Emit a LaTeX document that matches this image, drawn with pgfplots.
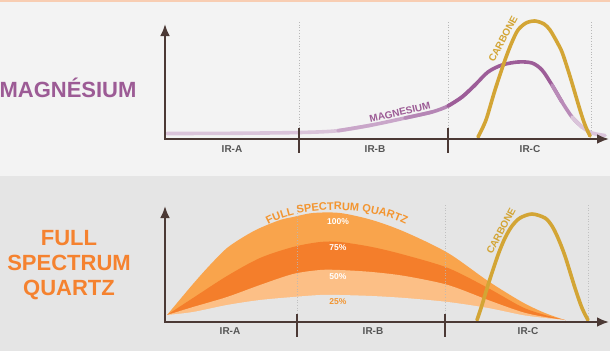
\documentclass[border=0pt]{standalone}
\usepackage{pgfplots}
\pgfplotsset{compat=1.18}
\usepackage{fontspec}
\setmainfont{Liberation Sans}
\usetikzlibrary{decorations.text,arrows.meta}
\definecolor{bgtop}{HTML}{F3F3F3}
\definecolor{bgbot}{HTML}{E5E5E5}
\definecolor{strip}{HTML}{F8CDB2}
\definecolor{axc}{HTML}{4B3935}
\definecolor{gridc}{HTML}{B8B8B8}
\definecolor{irc}{HTML}{555555}
\definecolor{mgtitle}{HTML}{9C5B95}
\definecolor{mgA}{HTML}{DAC4DA}
\definecolor{mgB}{HTML}{C9A6C9}
\definecolor{mgC}{HTML}{B586B5}
\definecolor{mgD}{HTML}{9D5D98}
\definecolor{mgE}{HTML}{B98BB8}
\definecolor{carb}{HTML}{D3A535}
\definecolor{fsqtitle}{HTML}{F5822F}
\definecolor{fsq}{HTML}{F39530}
\definecolor{qmed}{HTML}{F9A44C}
\definecolor{qdark}{HTML}{F47E2B}
\definecolor{qlight}{HTML}{FCBF86}
\begin{document}
\begin{tikzpicture}
\begin{axis}[
  width=610pt, height=351pt, scale only axis,
  xmin=0, xmax=610, ymin=0, ymax=351, y dir=reverse,
  hide axis, clip=true,
]
% panel backgrounds
\fill[bgtop] (axis cs:0,0) rectangle (axis cs:610,176);
\fill[bgbot] (axis cs:0,176) rectangle (axis cs:610,351);
\fill[strip] (axis cs:0,0) rectangle (axis cs:610,2);

% ---------- TOP PANEL ----------
\draw[gridc, dotted, line width=0.7pt] (axis cs:299,22) -- (axis cs:299,138);
\draw[gridc, dotted, line width=0.7pt] (axis cs:448,22) -- (axis cs:448,138);
\draw[gridc, dotted, line width=0.7pt] (axis cs:591,22) -- (axis cs:591,138);

% magnesium (colour fades along the curve)
\addplot[draw=mgA, line width=3.6pt, smooth, line cap=round] coordinates {
 (167,133.5) (230,133.3) (300,132.5) (338,130.7) (372,125)};
\addplot[draw=mgB, line width=3.6pt, smooth, line cap=round] coordinates {
 (338,130.7) (372,125) (405,118) (432,112)};
\addplot[draw=mgC, line width=3.6pt, smooth, line cap=round] coordinates {
 (405,118) (432,112) (448,106) (462,97) (475,85)};
\addplot[draw=mgD, line width=3.6pt, smooth, line cap=round] coordinates {
 (448,106) (462,97) (475,85) (488,72) (502,65) (518,62) (532,63) (542,70) (552,85) (562,102)};
\addplot[draw=mgE, line width=3.6pt, smooth, line cap=round] coordinates {
 (552,85) (562,102) (572,117) (582,127)};
\addplot[draw=mgA, line width=3.6pt, smooth, line cap=round] coordinates {
 (572,117) (582,127) (592,133) (605,135.5)};

% carbone (top)
\addplot[draw=carb, line width=3.6pt, smooth, line cap=round] coordinates {
 (478,137) (483,127) (487,117) (495,90) (505,60) (512,42) (518,30) (526,23)
 (535,21) (544,24) (550,30) (557,42) (562,52) (568,70) (572,83) (580,110)
 (585,125) (590,136)};

% axes
\draw[axc, line width=2.6pt, line join=miter, {Latex[length=12pt,width=10pt]}-{Latex[length=12pt,width=10pt]}]
  (axis cs:165,24) -- (axis cs:165,139) -- (axis cs:609,139);
\draw[axc, line width=2.6pt] (axis cs:299,128) -- (axis cs:299,153);
\draw[axc, line width=2.6pt] (axis cs:448,128) -- (axis cs:448,153);

\node[anchor=base, font=\bfseries\fontsize{10}{10}\selectfont, text=irc] at (axis cs:232,152.3) {IR-A};
\node[anchor=base, font=\bfseries\fontsize{10}{10}\selectfont, text=irc] at (axis cs:375,152.3) {IR-B};
\node[anchor=base, font=\bfseries\fontsize{10}{10}\selectfont, text=irc] at (axis cs:530,152.3) {IR-C};

\node[rotate=13, font=\bfseries\fontsize{10}{10}\selectfont, text=mgtitle] at (axis cs:400,112.5) {MAGNESIUM};
\node[rotate=62, font=\bfseries\fontsize{10}{10}\selectfont, text=carb] at (axis cs:503,39) {CARBONE};

\node[anchor=base, font=\bfseries\fontsize{22}{22}\selectfont, text=mgtitle] at (axis cs:68,97.5) {MAGNÉSIUM};

% ---------- BOTTOM PANEL ----------
% bands (each closed down to the x axis, which covers the seam)
\addplot[fill=qmed, draw=none, smooth] coordinates {
 (167,315) (193,284) (210,265) (227,248) (245,236) (260,228) (280,220)
 (293,217) (313,213) (340,213) (372,220) (405,232) (448,253) (488,281) (522,302)
 (545,313) (565,320)} -- (axis cs:565,322) -- (axis cs:165,322) -- (axis cs:165,315) -- cycle;
\addplot[fill=qdark, draw=none, smooth] coordinates {
 (167,315) (193,298) (227,276) (260,258) (293,247) (320,242) (340,242) (372,247)
 (405,255) (448,268) (488,288) (522,307) (545,315) (565,320)} -- (axis cs:565,322) -- (axis cs:165,322) -- (axis cs:165,315) -- cycle;
\addplot[fill=qlight, draw=none, smooth] coordinates {
 (167,315) (193,307) (227,297) (260,285) (293,274) (320,270) (340,270) (372,272)
 (405,276) (448,285) (488,300) (522,312) (545,317) (565,320)} -- (axis cs:565,322) -- (axis cs:165,322) -- (axis cs:165,315) -- cycle;
\addplot[fill=bgbot, draw=none, smooth] coordinates {
 (167,315) (193,312) (227,305) (260,300) (293,297) (320,295) (340,295) (372,296)
 (405,298) (448,302) (488,308) (522,315) (545,318) (565,320)} -- (axis cs:565,322) -- (axis cs:165,322) -- (axis cs:165,315) -- cycle;

\draw[gridc, dotted, line width=0.7pt, opacity=0.8] (axis cs:297,205) -- (axis cs:297,321);
\draw[gridc, dotted, line width=0.7pt, opacity=0.8] (axis cs:445,205) -- (axis cs:445,321);
\draw[gridc, dotted, line width=0.7pt, opacity=0.8] (axis cs:588,205) -- (axis cs:588,321);

% carbone (bottom)
\addplot[draw=carb, line width=3.6pt, smooth, line cap=round] coordinates {
 (477,320) (482,305) (488,285) (498,255) (505,238) (512,226) (520,218) (532,214)
 (545,218) (552,226) (558,238) (565,256) (575,288) (582,308) (588,320)};

% axes
\draw[axc, line width=2.6pt, line join=miter, {Latex[length=12pt,width=10pt]}-{Latex[length=12pt,width=10pt]}]
  (axis cs:165,206) -- (axis cs:165,322) -- (axis cs:609,322);
\draw[axc, line width=2.6pt] (axis cs:297,314) -- (axis cs:297,337);
\draw[axc, line width=2.6pt] (axis cs:445,314) -- (axis cs:445,337);

\node[anchor=base, font=\bfseries\fontsize{10}{10}\selectfont, text=irc] at (axis cs:230,334.3) {IR-A};
\node[anchor=base, font=\bfseries\fontsize{10}{10}\selectfont, text=irc] at (axis cs:373,334.3) {IR-B};
\node[anchor=base, font=\bfseries\fontsize{10}{10}\selectfont, text=irc] at (axis cs:528,334.3) {IR-C};

\node[anchor=base, font=\bfseries\fontsize{8.5}{8.5}\selectfont, text=white] at (axis cs:338,224) {100\%};
\node[anchor=base, font=\bfseries\fontsize{8.5}{8.5}\selectfont, text=white] at (axis cs:338,250) {75\%};
\node[anchor=base, font=\bfseries\fontsize{8.5}{8.5}\selectfont, text=white] at (axis cs:338,279) {50\%};
\node[anchor=base, font=\bfseries\fontsize{8.5}{8.5}\selectfont, text=fsq] at (axis cs:338,304) {25\%};

\path[decorate, decoration={text along path, text align=center, text color=fsq,
  text={|\bfseries\fontsize{11}{11}\selectfont|FULL SPECTRUM QUARTZ}}]
  (axis cs:262,228) .. controls (axis cs:295,205) and (axis cs:370,203) .. (axis cs:412,228);

\node[rotate=62, font=\bfseries\fontsize{10}{10}\selectfont, text=carb] at (axis cs:501,231) {CARBONE};

\node[anchor=base, font=\bfseries\fontsize{22}{22}\selectfont, text=fsqtitle] at (axis cs:69,245) {FULL};
\node[anchor=base, font=\bfseries\fontsize{22}{22}\selectfont, text=fsqtitle] at (axis cs:69,270) {SPECTRUM};
\node[anchor=base, font=\bfseries\fontsize{22}{22}\selectfont, text=fsqtitle] at (axis cs:69,295) {QUARTZ};
\end{axis}
\end{tikzpicture}
\end{document}
